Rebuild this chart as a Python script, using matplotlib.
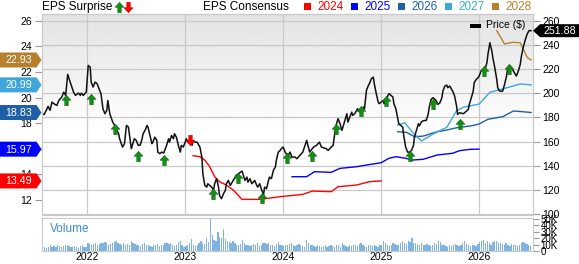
import matplotlib
matplotlib.use("Agg")
import matplotlib.pyplot as plt
import numpy as np
from matplotlib.path import Path
from matplotlib.patches import Polygon, Rectangle

plt.rcParams['font.family'] = ['Liberation Sans', 'DejaVu Sans']

# ---- data (x in fractional years) ----
price_dates = [
    2021.53, 2021.56, 2021.59, 2021.60, 2021.62, 2021.64, 2021.67, 2021.69, 2021.71, 2021.74,
    2021.76, 2021.78, 2021.80, 2021.82, 2021.86, 2021.88, 2021.91, 2021.93, 2021.94, 2021.96,
    2021.99, 2022.01, 2022.03, 2022.04, 2022.06, 2022.08, 2022.10, 2022.12, 2022.14, 2022.16,
    2022.18, 2022.20, 2022.21, 2022.23, 2022.26, 2022.28, 2022.32, 2022.33, 2022.36, 2022.38,
    2022.40, 2022.42, 2022.44, 2022.45, 2022.48, 2022.50, 2022.52, 2022.54, 2022.56, 2022.57,
    2022.59, 2022.61, 2022.62, 2022.64, 2022.66, 2022.67, 2022.69, 2022.71, 2022.72, 2022.74,
    2022.76, 2022.78, 2022.79, 2022.81, 2022.83, 2022.84, 2022.86, 2022.88, 2022.89, 2022.91,
    2022.93, 2022.95, 2022.96, 2022.98, 2023.00, 2023.01, 2023.03, 2023.05, 2023.07, 2023.08,
    2023.10, 2023.12, 2023.13, 2023.15, 2023.17, 2023.18, 2023.20, 2023.22, 2023.23, 2023.25,
    2023.27, 2023.29, 2023.30, 2023.32, 2023.34, 2023.35, 2023.37, 2023.39, 2023.41, 2023.42,
    2023.44, 2023.46, 2023.49, 2023.52, 2023.58, 2023.61, 2023.63, 2023.64, 2023.66, 2023.68,
    2023.71, 2023.73, 2023.74, 2023.76, 2023.78, 2023.80, 2023.81, 2023.83, 2023.85, 2023.86,
    2023.88, 2023.90, 2023.92, 2023.93, 2023.95, 2023.97, 2023.98, 2024.00, 2024.02, 2024.03,
    2024.05, 2024.07, 2024.09, 2024.12, 2024.14, 2024.17, 2024.20, 2024.24, 2024.27, 2024.31,
    2024.34, 2024.37, 2024.39, 2024.44, 2024.46, 2024.49, 2024.51, 2024.53, 2024.54, 2024.56,
    2024.58, 2024.60, 2024.61, 2024.63, 2024.65, 2024.66, 2024.68, 2024.70, 2024.71, 2024.73,
    2024.75, 2024.76, 2024.78, 2024.80, 2024.82, 2024.83, 2024.85, 2024.87, 2024.88, 2024.90,
    2024.92, 2024.93, 2024.95, 2024.97, 2024.98, 2025.00, 2025.02, 2025.03, 2025.05, 2025.07,
    2025.08, 2025.10, 2025.12, 2025.13, 2025.15, 2025.17, 2025.18, 2025.20, 2025.22, 2025.23,
    2025.25, 2025.27, 2025.29, 2025.31, 2025.33, 2025.34, 2025.36, 2025.38, 2025.39, 2025.41,
    2025.43, 2025.46, 2025.48, 2025.49, 2025.51, 2025.53, 2025.56, 2025.58, 2025.60, 2025.62,
    2025.63, 2025.65, 2025.67, 2025.68, 2025.70, 2025.72, 2025.73, 2025.75, 2025.77, 2025.78,
    2025.80, 2025.84, 2025.87, 2025.89, 2025.90, 2025.92, 2025.94, 2025.95, 2025.97, 2025.99,
    2026.00, 2026.02, 2026.04, 2026.06, 2026.08, 2026.09, 2026.11, 2026.13, 2026.14, 2026.16,
    2026.18, 2026.19, 2026.21, 2026.24, 2026.26, 2026.28, 2026.29, 2026.31, 2026.33, 2026.35,
    2026.36, 2026.38, 2026.40, 2026.42, 2026.43, 2026.45, 2026.47, 2026.49, 2026.51, 2026.53,
]
price_vals = [
    183.1, 182.5, 187.3, 189.2, 185.9, 192.7, 190.8, 190.0, 194.1, 196.9,
    201.0, 198.3, 215.7, 210.7, 201.0, 198.3, 200.2, 198.3, 200.2, 198.3,
    201.0, 223.1, 221.7, 209.3, 205.2, 209.3, 208.0, 203.8, 199.7, 187.3,
    183.1, 185.9, 194.1, 183.1, 176.2, 173.4, 166.5, 162.4, 155.5, 158.3,
    173.4, 172.0, 159.6, 154.1, 162.4, 161.0, 156.9, 157.0, 162.4, 166.5,
    169.3, 173.4, 172.0, 165.1, 158.3, 159.6, 163.7, 161.0, 151.3, 150.0,
    151.3, 150.5, 152.7, 156.9, 162.4, 159.6, 165.1, 162.4, 166.5, 163.7,
    156.9, 151.3, 156.9, 155.5, 159.6, 162.4, 159.6, 162.4, 156.9, 161.0,
    159.6, 159.6, 158.3, 155.5, 147.2, 133.4, 123.7, 122.3, 125.1, 123.7,
    122.3, 119.6, 125.1, 129.3, 122.3, 115.4, 112.7, 116.8, 119.6, 125.1,
    127.8, 123.7, 127.8, 132.0, 135.6, 127.8, 130.6, 126.4, 129.3, 125.1,
    127.8, 123.7, 122.3, 125.1, 120.0, 116.0, 122.3, 121.0, 127.8, 130.6,
    129.3, 136.2, 138.9, 144.4, 151.3, 152.7, 154.1, 155.5, 151.3, 150.0,
    148.6, 151.3, 147.2, 147.2, 145.8, 148.6, 151.3, 161.0, 151.3, 155.5,
    156.9, 159.6, 155.5, 154.1, 152.7, 155.5, 156.9, 169.3, 173.4, 179.0,
    174.8, 169.3, 172.0, 177.6, 183.1, 176.2, 180.3, 184.4, 181.7, 183.1,
    185.9, 187.3, 184.4, 185.9, 188.6, 187.3, 202.4, 206.6, 208.0, 212.1,
    213.4, 208.0, 199.7, 192.7, 191.4, 192.7, 194.1, 191.4, 194.1, 198.3,
    199.7, 198.3, 196.9, 191.4, 187.3, 179.0, 174.8, 173.4, 172.0, 165.1,
    155.5, 151.3, 151.3, 152.7, 156.9, 163.7, 169.3, 174.8, 173.0, 176.2,
    177.3, 177.6, 182.5, 188.1, 195.0, 196.4, 194.1, 190.8, 192.2, 196.4,
    201.8, 206.0, 206.8, 204.6, 206.0, 203.2, 201.8, 197.7, 189.4, 182.5,
    183.9, 183.1, 185.3, 186.7, 190.8, 196.4, 201.8, 208.8, 211.5, 212.9,
    214.3, 218.4, 219.8, 219.8, 225.4, 232.2, 241.9, 235.0, 229.5, 221.2,
    211.5, 204.6, 201.8, 201.8, 207.4, 214.3, 219.8, 222.6, 221.2, 218.4,
    217.1, 214.3, 218.4, 224.0, 230.0, 238.0, 244.0, 249.0, 252.0, 251.88,
]

# EPS consensus by fiscal year
eps24_dates = [2023.08, 2023.15, 2023.20, 2023.25, 2023.30, 2023.35, 2023.42, 2023.49, 2023.58,
               2023.76, 2023.97, 2024.07, 2024.20, 2024.30, 2024.49, 2024.56, 2024.75, 2024.88, 2025.00]
eps24_vals = [15.46, 15.38, 15.12, 14.60, 13.82, 13.43, 13.17, 12.78, 12.05,
              12.05, 12.26, 12.34, 12.44, 12.70, 12.65, 13.04, 13.17, 13.43, 13.49]

eps25_dates = [2024.09, 2024.24, 2024.32, 2024.49, 2024.58, 2024.75, 2024.85, 2025.00, 2025.08,
               2025.15, 2025.25, 2025.32, 2025.43, 2025.57, 2025.73, 2025.80, 2025.91, 2026.00]
eps25_vals = [13.82, 13.82, 14.21, 14.16, 14.47, 14.60, 14.73, 14.91, 15.26,
              15.38, 15.26, 15.12, 15.18, 15.51, 15.65, 15.85, 15.96, 15.97]

eps26_dates = [2025.17, 2025.26, 2025.34, 2025.43, 2025.57, 2025.67, 2025.77, 2025.91, 2026.00,
               2026.09, 2026.24, 2026.35, 2026.45, 2026.53]
eps26_vals = [17.33, 17.28, 16.94, 16.99, 17.33, 17.46, 17.64, 17.78, 17.93,
              18.30, 18.50, 18.95, 18.89, 18.83]

eps27_dates = [2025.17, 2025.24, 2025.33, 2025.41, 2025.53, 2025.67, 2025.77, 2025.84, 2026.00,
               2026.11, 2026.24, 2026.42, 2026.53]
eps27_vals = [17.85, 18.03, 17.21, 16.61, 17.15, 17.68, 18.97, 19.24, 19.49,
              20.41, 20.67, 21.06, 20.99]

eps28_dates = [2026.18, 2026.26, 2026.34, 2026.42, 2026.49, 2026.53]
eps28_vals = [25.22, 24.18, 24.31, 24.28, 23.14, 22.93]

# EPS surprise markers (placed on the price scale)
beat_dates = [2021.78, 2022.04, 2022.28, 2022.52, 2022.78, 2023.28, 2023.54, 2023.78, 2024.04,
              2024.29, 2024.54, 2024.79, 2025.05, 2025.29, 2025.53, 2025.80, 2026.05, 2026.30]
beat_prices = [194.1, 195.5, 170.4, 148.2, 144.4, 116.8, 129.8, 113.2, 146.3,
               147.7, 170.7, 185.0, 193.6, 147.7, 191.4, 174.3, 218.2, 220.4]
miss_dates = [2023.05]
miss_prices = [161.0]

# weekly volume (thousands)
vol_start = 2021.545
volume_k = [
    8, 6, 5, 7, 9, 7, 8, 6, 9, 8, 7, 8, 10, 9, 8, 7, 6, 8, 7, 5, 8, 9, 6, 7,
    12, 11, 10, 11, 12, 10, 11, 13, 12, 14, 13, 10, 11, 12, 14, 15, 12, 11, 10, 12, 9, 11, 10, 16, 12, 11,
    10, 9, 8, 11, 12, 10, 9, 8, 7, 9, 10, 11, 8, 9, 10, 12, 13, 11, 12, 9, 8, 10, 14, 16, 9, 7,
    8, 10, 12, 18, 9, 8, 10, 12, 15, 13, 11, 20, 14, 50, 25, 17, 16, 30, 22, 20, 35, 18, 16, 14, 13, 15,
    12, 10, 9, 11, 17, 12, 10, 9, 8, 9, 11, 10, 12, 8, 9, 13, 12, 11, 12, 10, 9, 8, 11, 14, 10, 9,
    8, 10, 9, 11, 12, 9, 8, 10, 11, 9, 8, 7, 17, 12, 10, 9, 8, 7, 9, 8, 7, 8, 9, 7, 8, 9,
    8, 7, 9, 10, 7, 12, 9, 8, 7, 9, 8, 10, 9, 8, 11, 12, 9, 8, 7, 9, 10, 8, 9, 8, 7, 9,
    10, 15, 13, 9, 8, 10, 12, 11, 9, 10, 13, 15, 12, 11, 16, 14, 20, 13, 12, 11, 10, 12, 9, 10, 11, 9,
    8, 10, 12, 11, 16, 14, 10, 9, 8, 7, 9, 8, 10, 11, 9, 8, 10, 12, 15, 11, 9, 8, 10, 9, 8, 11,
    14, 16, 17, 13, 15, 12, 10, 14, 15, 16, 13, 12, 11, 10, 12, 9, 8, 11, 10, 9, 8, 10, 12, 14, 13, 11, 9, 8,
]

year_ticks = [2022, 2023, 2024, 2025, 2026]
price_ticks = [100, 120, 140, 160, 180, 200, 220, 240, 260]
eps_ticks = [12, 14, 16, 18, 20, 22, 24, 26]
vol_ticks = [0, 10, 20, 30, 40, 50]
vol_labels = ['0', '10K', '20K', '30K', '40K', '50K']

series_names = ['2024', '2025', '2026', '2027', '2028']
series_colors = ['#ff0000', '#0000ff', '#1f5fa8', '#3ea6d8', '#b5812f']

# ---- layout ----
W, H = 579, 264
fig = plt.figure(figsize=(W / 100, H / 100), dpi=100)


def rect(l, t, r, b):
    return [l / W, 1 - b / H, (r - l) / W, (b - t) / H]


grid_c = '#c9c9c9'
tick_c = '#999999'

ax = fig.add_axes(rect(41.6, 14, 533, 215))
ax_eps = ax.twinx()
axv = fig.add_axes(rect(41.6, 218, 533, 251))

# background gradient
grad = np.concatenate([np.linspace(0.89, 1.0, 150), np.ones(106)]).reshape(-1, 1)
ax.imshow(grad, extent=[0, 1, 0, 1], transform=ax.transAxes, aspect='auto',
          cmap='gray', vmin=0, vmax=1, zorder=0)

ax.set_xlim(2021.534, 2026.55)
ax.set_ylim(99.2, 265.7)
ax_eps.set_ylim(10.83, 26.52)

ax.set_xticks(year_ticks)
ax.set_yticks(price_ticks)
ax.grid(True, color=grid_c, lw=0.9)
ax.set_axisbelow(True)
ax.yaxis.tick_right()
ax.tick_params(axis='x', length=0, labelbottom=False)
ax.tick_params(axis='y', right=True, left=False, labelright=True, labelleft=False,
               length=5, color=tick_c, labelsize=7.5, pad=1.5)

ax_eps.yaxis.tick_left()
ax_eps.set_yticks(eps_ticks)
ax_eps.tick_params(axis='y', left=True, right=False, labelleft=True, labelright=False,
                   length=5, color=tick_c, labelsize=7.5, pad=2)

for a in (ax, ax_eps, axv):
    for s in a.spines.values():
        s.set_color(grid_c)

# consensus lines
for d, v, c in zip([eps24_dates, eps25_dates, eps26_dates, eps27_dates, eps28_dates],
                   [eps24_vals, eps25_vals, eps26_vals, eps27_vals, eps28_vals],
                   series_colors):
    ax_eps.plot(d, v, color=c, lw=1.0)

# price line and surprise arrows on top (price scale)
ax_eps.plot(price_dates, price_vals, color='#111111', lw=1.1, transform=ax.transData)

up = Path([(0, 1), (0.85, 0.05), (0.33, 0.05), (0.33, -1), (-0.33, -1), (-0.33, 0.05),
           (-0.85, 0.05), (0, 1)],
          [Path.MOVETO] + [Path.LINETO] * 6 + [Path.CLOSEPOLY])
down = Path([(x, -y) for x, y in up.vertices], up.codes)

ax_eps.plot(beat_dates, beat_prices, ls='none', marker=up, ms=7.5, mfc='#178c17',
            mec='#0f6e0f', mew=0.4, transform=ax.transData)
ax_eps.plot(miss_dates, miss_prices, ls='none', marker=down, ms=7.5, mfc='#ff0000',
            mec='#cc0000', mew=0.4, transform=ax.transData)

ax_eps.set_xlim(2021.534, 2026.55)
ax_eps.set_ylim(10.83, 26.52)

# volume panel
vol_x = vol_start + np.arange(len(volume_k)) / 52.0
axv.bar(vol_x, volume_k, width=0.7 / 52, color='#7fb3e4', linewidth=0)
axv.set_xlim(2021.534, 2026.55)
axv.set_ylim(0, 51.5)
axv.set_xticks(year_ticks)
axv.set_xticklabels([str(y) for y in year_ticks])
axv.set_yticks(vol_ticks)
axv.set_yticklabels(vol_labels)
axv.yaxis.tick_right()
axv.tick_params(axis='x', length=0, labelsize=7.5, pad=1)
axv.tick_params(axis='y', right=True, left=False, length=4, color=tick_c,
                labelsize=7, pad=1.5)
axv.text(0.018, 0.68, 'Volume', transform=axv.transAxes, color='#3d8bd0',
         fontsize=8.5, va='center', ha='left')

# ---- overlay for legend and value tags (pixel coordinates) ----
ov = fig.add_axes([0, 0, 1, 1], zorder=10)
ov.set_xlim(0, W)
ov.set_ylim(H, 0)
ov.axis('off')
ov.patch.set_visible(False)

ov.text(42, 7, 'EPS Surprise', fontsize=8.5, va='center', ha='left')
ov.plot([118.5], [6.5], marker=up, ms=7.5, mfc='#178c17', mec='#0f6e0f', mew=0.4, ls='none')
ov.plot([128], [6.5], marker=down, ms=7.5, mfc='#ff0000', mec='#cc0000', mew=0.4, ls='none')
ov.text(203, 7, 'EPS Consensus', fontsize=8.5, va='center', ha='left')

for i, (name, col) in enumerate(zip(series_names, series_colors)):
    xs = 304 + 47 * i
    ov.add_patch(Rectangle((xs, 3), 7, 7, color=col, lw=0))
    ov.text(xs + 13, 7, name, color=col, fontsize=8.5, va='center', ha='left')

# price legend inside the chart
ov.add_patch(Rectangle((470, 23.5), 11, 4, color='black', lw=0))
ov.text(486, 25.5, 'Price ($)', fontsize=7.5, va='center', ha='left')

# left tags with latest consensus values
for vals, col in zip([eps24_vals, eps25_vals, eps26_vals, eps27_vals, eps28_vals], series_colors):
    val = vals[-1]
    y = H - ax_eps.transData.transform((2022, val))[1]
    ov.add_patch(Polygon([(0, y - 7.5), (36.5, y - 7.5), (41.5, y), (36.5, y + 7.5), (0, y + 7.5)],
                         closed=True, fc=col, ec='none'))
    ov.text(18.5, y + 0.5, f'{val:.2f}', color='white', fontsize=7.7, ha='center', va='center')

# right tag with latest price
last = price_vals[-1]
y = H - ax.transData.transform((2022, last))[1]
ov.add_patch(Polygon([(533, y), (540, y - 6.5), (579, y - 6.5), (579, y + 6.5), (540, y + 6.5)],
                     closed=True, fc='black', ec='none'))
ov.text(559.5, y + 0.5, f'{last:.2f}', color='white', fontsize=7.7, ha='center', va='center')

fig.savefig('out.png', dpi=100)
